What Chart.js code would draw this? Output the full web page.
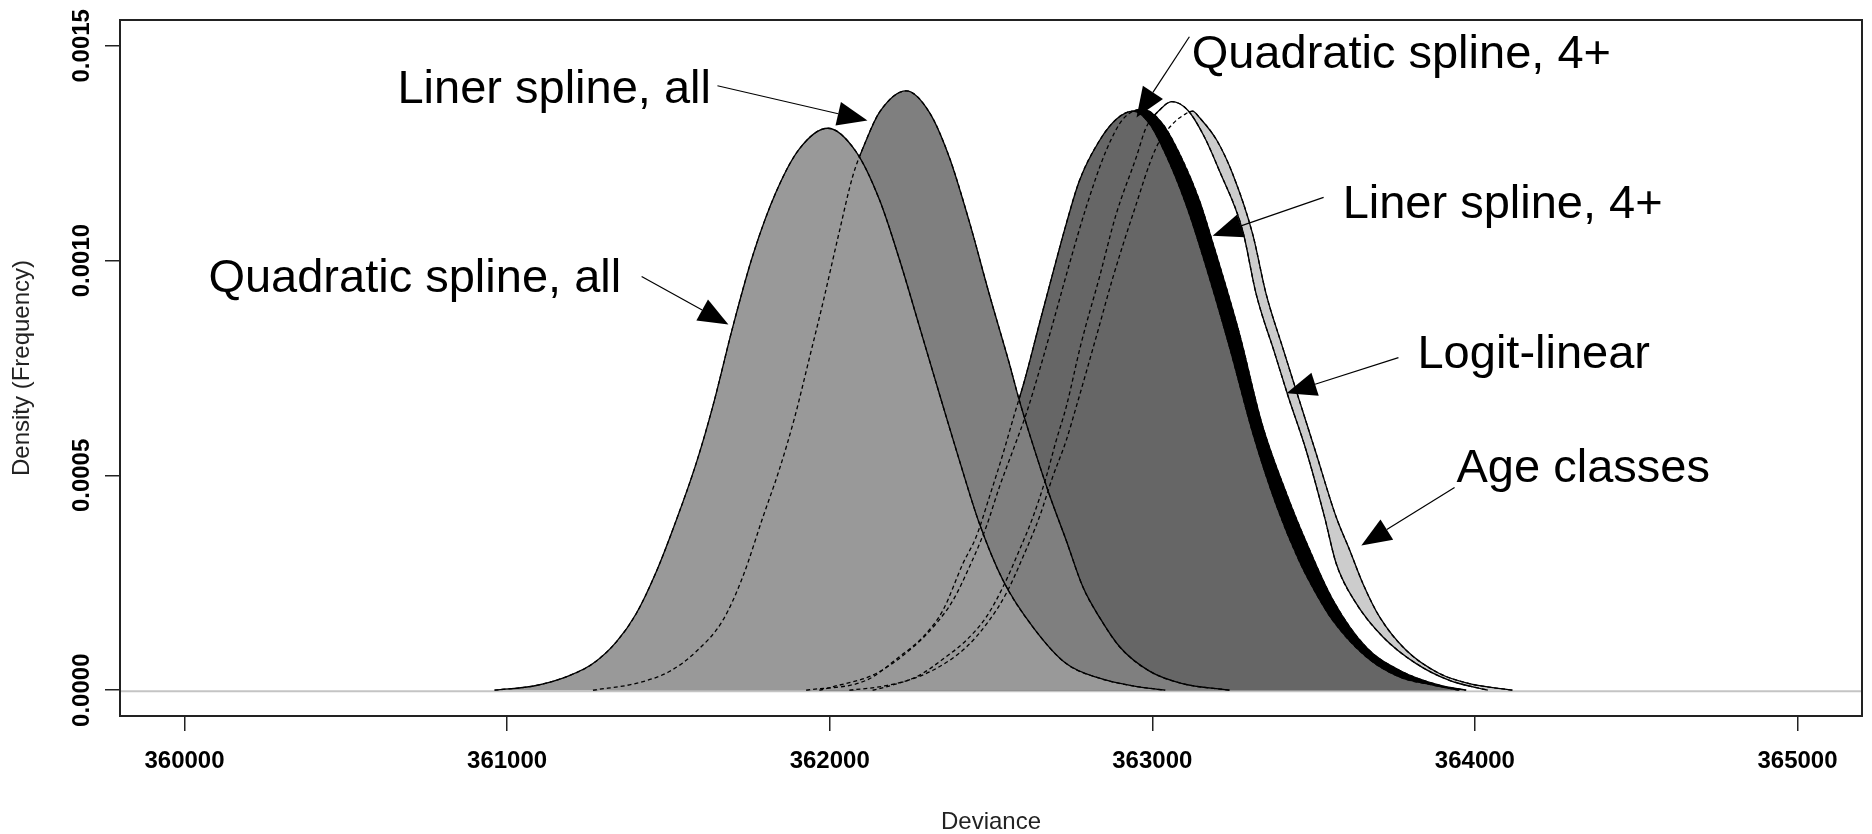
<!DOCTYPE html>
<html>
<head>
<meta charset="utf-8">
<script src="https://cdn.jsdelivr.net/npm/chart.js@4.4.1/dist/chart.umd.min.js"></script>
<style>
  body { margin: 0; background: #fff; }
  #wrap { width: 1872px; height: 834px; }
</style>
</head>
<body>
<div id="wrap"><canvas id="devChart"></canvas></div>
<script>
// deviance (x) and density (y), one pair of arrays per curve
var devQuadAll = [360961, 361090, 361193, 361266, 361338, 361400, 361462, 361524, 361586, 361638, 361700, 361762, 361834, 361906, 361994, 362082, 362154, 362216, 362278, 362351, 362402, 362464, 362537, 362630, 362733, 362836, 362940, 363040];
var denQuadAll = [0, 0.000011, 0.000034, 0.000062, 0.000112, 0.000178, 0.000275, 0.000395, 0.000528, 0.000662, 0.000847, 0.001013, 0.00116, 0.00126, 0.001308, 0.001253, 0.001142, 0.001003, 0.000847, 0.000662, 0.000535, 0.000388, 0.000256, 0.000147, 0.000062, 0.000028, 0.00001, 0];

var devLinAll = [361266, 361400, 361503, 361586, 361669, 361731, 361793, 361844, 361891, 361937, 361979, 362030, 362072, 362113, 362154, 362237, 362309, 362371, 362433, 362495, 362557, 362588, 362620, 362681, 362733, 362785, 362836, 362900, 362990, 363090, 363240];
var denLinAll = [0, 0.000016, 0.0000435, 0.00009, 0.000163, 0.000265, 0.000403, 0.000514, 0.000634, 0.000773, 0.000902, 0.001068, 0.001198, 0.00128, 0.001345, 0.001395, 0.001345, 0.00124, 0.00109, 0.000921, 0.00076, 0.000674, 0.000595, 0.000455, 0.000349, 0.00024, 0.00017, 0.0001, 0.000045, 0.000016, 0];

var devQuad4 = [361927, 362113, 362216, 362289, 362351, 362413, 362454, 362495, 362537, 362573, 362604, 362650, 362691, 362733, 362774, 362836, 362890, 362940, 362990, 363043, 363105, 363157, 363239, 363311, 363385, 363456, 363508, 363560, 363663, 363766, 363870, 363952];
var denQuad4 = [0, 0.000023, 0.000078, 0.000124, 0.000186, 0.000295, 0.000357, 0.00045, 0.00055, 0.000643, 0.000721, 0.000853, 0.000969, 0.001085, 0.001186, 0.001279, 0.00133, 0.001348, 0.00132, 0.001245, 0.00113, 0.00101, 0.0008, 0.0006, 0.00043, 0.0003, 0.000225, 0.000162, 0.000078, 0.000031, 0.000012, 0];

var devLin4 = [361968, 362010, 362144, 362258, 362330, 362382, 362433, 362485, 362526, 362568, 362609, 362650, 362697, 362743, 362795, 362857, 362910, 362970, 363030, 363090, 363146, 363188, 363270, 363340, 363420, 363477, 363560, 363663, 363766, 363890, 363973];
var denLin4 = [0, 0.000008, 0.000039, 0.0001, 0.000155, 0.000209, 0.000287, 0.00038, 0.000473, 0.000558, 0.000643, 0.000744, 0.000868, 0.000992, 0.001124, 0.001256, 0.00133, 0.001352, 0.00132, 0.00124, 0.00114, 0.00104, 0.00083, 0.00062, 0.00045, 0.000345, 0.00021, 0.0001, 0.0000465, 0.0000116, 0];

var devLogit = [362061, 362170, 362268, 362361, 362423, 362485, 362537, 362588, 362630, 362671, 362702, 362733, 362779, 362836, 362888, 362950, 362981, 363022, 363060, 363110, 363160, 363208, 363280, 363322, 363380, 363422, 363477, 363534, 363570, 363632, 363715, 363818, 363921, 364040];
var denLogit = [0, 0.00001, 0.000031, 0.000078, 0.000116, 0.00017, 0.00024, 0.000326, 0.000403, 0.000496, 0.000581, 0.000659, 0.000806, 0.000961, 0.001108, 0.00124, 0.00131, 0.00135, 0.00137, 0.00135, 0.00129, 0.001209, 0.00107, 0.000922, 0.000783, 0.000682, 0.000558, 0.000403, 0.000295, 0.000202, 0.000124, 0.000062, 0.000023, 0];

var devAge = [362133, 362175, 362320, 362423, 362495, 362547, 362599, 362650, 362691, 362733, 362764, 362826, 362878, 362940, 363012, 363063, 363100, 363125, 363146, 363200, 363249, 363311, 363353, 363404, 363456, 363505, 363570, 363612, 363653, 363705, 363787, 363890, 363983, 364117];
var denAge = [0, 0.0000077, 0.0000465, 0.0001, 0.000163, 0.000225, 0.00031, 0.000403, 0.000496, 0.000581, 0.000659, 0.000822, 0.000961, 0.001108, 0.001263, 0.001318, 0.00134, 0.001348, 0.001333, 0.00128, 0.001202, 0.001062, 0.000922, 0.000798, 0.000674, 0.000558, 0.000403, 0.000326, 0.000248, 0.00017, 0.000093, 0.000039, 0.0000155, 0];

var xTicks = [360000, 361000, 362000, 363000, 364000, 365000];
var yTicks = [0, 0.0005, 0.001, 0.0015];

// labels with arrows: text anchor, arrow start, arrow tip (data units)
var notes = [
  { text: 'Quadratic spline, 4+', at: [363122, 0.001449], from: [363115, 0.001521], to: [362951, 0.001333] },
  { text: 'Liner spline, all', at: [360660, 0.001367], from: [361652, 0.001407], to: [362117, 0.001326] },
  { text: 'Quadratic spline, all', at: [360074, 0.000928], from: [361417, 0.000963], to: [361686, 0.000851] },
  { text: 'Liner spline, 4+', at: [363590, 0.0011], from: [363531, 0.001147], to: [363187, 0.001058] },
  { text: 'Logit-linear', at: [363822, 0.000749], from: [363763, 0.000774], to: [363416, 0.000691] },
  { text: 'Age classes', at: [363943, 0.000484], from: [363937, 0.000472], to: [363648, 0.000337] }
];

// bottom to top drawing order
var curves = [
  { name: 'Age classes', xs: devAge, ys: denAge, color: '#cccccc', order: 7 },
  { name: 'Logit-linear', xs: devLogit, ys: denLogit, color: '#ffffff', order: 6 },
  { name: 'Liner spline, 4+', xs: devLin4, ys: denLin4, color: '#000000', order: 5 },
  { name: 'Quadratic spline, 4+', xs: devQuad4, ys: denQuad4, color: '#666666', order: 4 },
  { name: 'Liner spline, all', xs: devLinAll, ys: denLinAll, color: '#7f7f7f', order: 3 },
  { name: 'Quadratic spline, all', xs: devQuadAll, ys: denQuadAll, color: '#999999', order: 2 }
];

function pts(xs, ys) {
  return xs.map(function (v, i) { return { x: v, y: ys[i] }; });
}

var datasets = curves.map(function (c) {
  return {
    label: c.name, data: pts(c.xs, c.ys), order: c.order,
    fill: 'origin', backgroundColor: c.color,
    borderColor: '#000', borderWidth: 1.3,
    pointRadius: 0, cubicInterpolationMode: 'monotone'
  };
}).concat(curves.map(function (c) {
  return {
    label: c.name + ' (outline)', data: pts(c.xs, c.ys), order: 1,
    fill: false, borderColor: '#000', borderWidth: 1.3, borderDash: [4, 3],
    pointRadius: 0, cubicInterpolationMode: 'monotone'
  };
}));

var FONT = '"Liberation Sans", Arial, sans-serif';

var extras = {
  id: 'extras',
  beforeDatasetsDraw: function (chart) {
    var ctx = chart.ctx, a = chart.chartArea, y0 = chart.scales.y.getPixelForValue(0) + 1;
    ctx.save();
    ctx.strokeStyle = '#c4c4c4';
    ctx.lineWidth = 2;
    ctx.beginPath(); ctx.moveTo(a.left, y0); ctx.lineTo(a.right, y0); ctx.stroke();
    ctx.restore();
  },
  afterDraw: function (chart) {
    var ctx = chart.ctx, a = chart.chartArea, sx = chart.scales.x, sy = chart.scales.y;
    ctx.save();
    ctx.strokeStyle = '#222';
    ctx.lineWidth = 2;
    ctx.strokeRect(a.left, a.top, a.right - a.left, a.bottom - a.top);

    ctx.fillStyle = '#000';
    ctx.strokeStyle = '#000';
    ctx.font = '47px ' + FONT;
    ctx.textAlign = 'left';
    ctx.textBaseline = 'alphabetic';
    notes.forEach(function (n) {
      ctx.fillText(n.text, sx.getPixelForValue(n.at[0]), sy.getPixelForValue(n.at[1]));
      var x1 = sx.getPixelForValue(n.from[0]), y1 = sy.getPixelForValue(n.from[1]);
      var x2 = sx.getPixelForValue(n.to[0]), y2 = sy.getPixelForValue(n.to[1]);
      var ang = Math.atan2(y2 - y1, x2 - x1), len = 30, half = 12;
      var bx = x2 - Math.cos(ang) * len, by = y2 - Math.sin(ang) * len;
      ctx.lineWidth = 1.2;
      ctx.beginPath(); ctx.moveTo(x1, y1); ctx.lineTo(bx, by); ctx.stroke();
      ctx.beginPath();
      ctx.moveTo(x2, y2);
      ctx.lineTo(bx + Math.sin(ang) * half, by - Math.cos(ang) * half);
      ctx.lineTo(bx - Math.sin(ang) * half, by + Math.cos(ang) * half);
      ctx.closePath(); ctx.fill();
    });
    ctx.restore();
  }
};

new Chart('devChart', {
  type: 'line',
  data: { datasets: datasets },
  options: {
    responsive: true,
    maintainAspectRatio: false,
    devicePixelRatio: 1,
    animation: false,
    events: [],
    layout: { padding: { top: 20, right: 10, left: 0, bottom: 0 } },
    plugins: { legend: { display: false }, tooltip: { enabled: false } },
    scales: {
      x: {
        type: 'linear', min: 359800, max: 365200,
        afterBuildTicks: function (s) { s.ticks = xTicks.map(function (v) { return { value: v }; }); },
        afterFit: function (s) { s.height = 118; },
        grid: { drawOnChartArea: false, drawTicks: true, tickLength: 15, color: '#222', lineWidth: 1.5 },
        border: { display: false },
        ticks: {
          padding: 16, color: '#000', maxRotation: 0, autoSkip: false,
          font: { family: FONT, size: 24, weight: 'bold' },
          callback: function (v) { return String(v); }
        },
        title: { display: true, text: 'Deviance', color: '#222', padding: { top: 0, bottom: -3 }, font: { family: FONT, size: 24 } }
      },
      y: {
        type: 'linear', min: -0.00006, max: 0.00156,
        afterBuildTicks: function (s) { s.ticks = yTicks.map(function (v) { return { value: v }; }); },
        afterFit: function (s) { s.width = 120; },
        grid: { drawOnChartArea: false, drawTicks: true, tickLength: 15, color: '#222', lineWidth: 1.5 },
        border: { display: false },
        ticks: {
          padding: -14, color: '#000', minRotation: 90, maxRotation: 90, crossAlign: 'center', autoSkip: false,
          font: { family: FONT, size: 24, weight: 'bold' },
          callback: function (v) { return v.toFixed(4); }
        },
        title: { display: true, text: 'Density (Frequency)', color: '#222', padding: { top: 8, bottom: 0 }, font: { family: FONT, size: 24 } }
      }
    }
  },
  plugins: [extras]
});
</script>
</body>
</html>
